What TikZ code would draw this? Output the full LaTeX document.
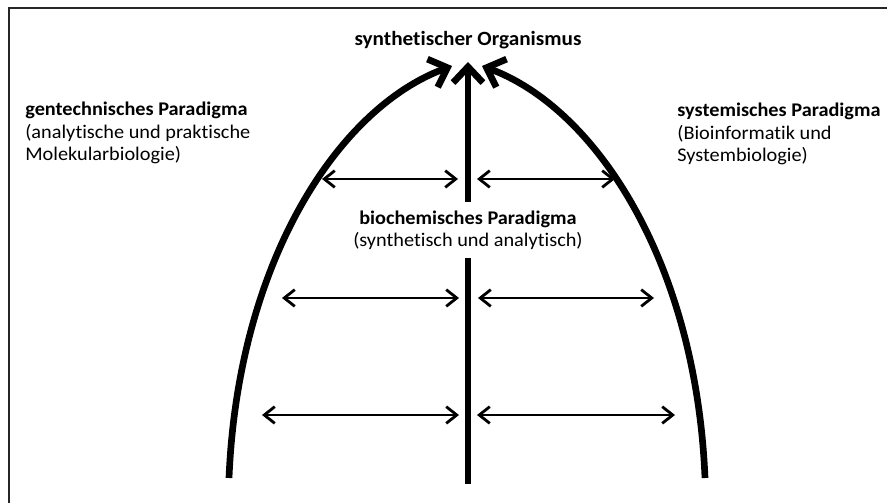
\documentclass[tikz,border=0pt]{standalone}
\usepackage{fontspec}
\setmainfont{Carlito}[FakeStretch=1.05, Ligatures={NoCommon}]
\usetikzlibrary{arrows.meta}
\begin{document}
\begin{tikzpicture}[x=0.02cm,y=-0.02cm,
  txt/.style={font=\fontsize{11}{12.7}\selectfont, inner sep=0pt},
  bigarrow/.style={line width=3.8pt, -{Straight Barb[length=9pt,width=17pt]}},
  spanarrow/.style={line width=1.6pt,
    {Straight Barb[length=6pt,width=9.5pt]}-{Straight Barb[length=6pt,width=9.5pt]}},
]
\useasboundingbox (0,0) rectangle (887,503);
% frame
\draw[line width=1.3pt, black!85] (9,503) -- (9,8) -- (887,8);

% end points of the three thick arrows
\coordinate (lbot) at (229,478);
\coordinate (ltop) at (452,66);
\coordinate (rbot) at (705,478);
\coordinate (rtop) at (482,66);
\coordinate (cbot) at (468,484);
\coordinate (ctop) at (468,62);

% horizontal exchange arrows
\coordinate (a1) at (322,179); \coordinate (b1) at (458,179);
\coordinate (c1) at (477,179); \coordinate (d1) at (615,179);
\coordinate (a2) at (282,298); \coordinate (b2) at (459,298);
\coordinate (c2) at (478,298); \coordinate (d2) at (654,298);
\coordinate (a3) at (262,415); \coordinate (b3) at (459,415);
\coordinate (c3) at (477,415); \coordinate (d3) at (675,415);

\draw[bigarrow] (lbot) .. controls (238,262) and (338,108) .. (ltop);
\draw[bigarrow] (rbot) .. controls (696,262) and (596,108) .. (rtop);
\draw[bigarrow] (cbot) -- (ctop);

\foreach \i in {1,2,3}{
  \draw[spanarrow] (a\i) -- (b\i);
  \draw[spanarrow] (c\i) -- (d\i);
}

% labels
\node[txt, font=\fontsize{11.5}{12.7}\selectfont\bfseries] (org) at (468,40) {synthetischer Organismus};
\node[txt, align=left, anchor=north west] (gen) at (25,102)
  {\textbf{gentechnisches Paradigma}\\(analytische und praktische\\Molekularbiologie)};
\node[txt, align=left, anchor=north west] (sys) at (677,103)
  {\textbf{systemisches Paradigma}\\(Bioinformatik und\\Systembiologie)};
\node[txt, align=center, fill=white, inner xsep=6pt, inner ysep=5pt] (bio) at (468,230)
  {\textbf{biochemisches Paradigma}\\(synthetisch und analytisch)};
\end{tikzpicture}
\end{document}
